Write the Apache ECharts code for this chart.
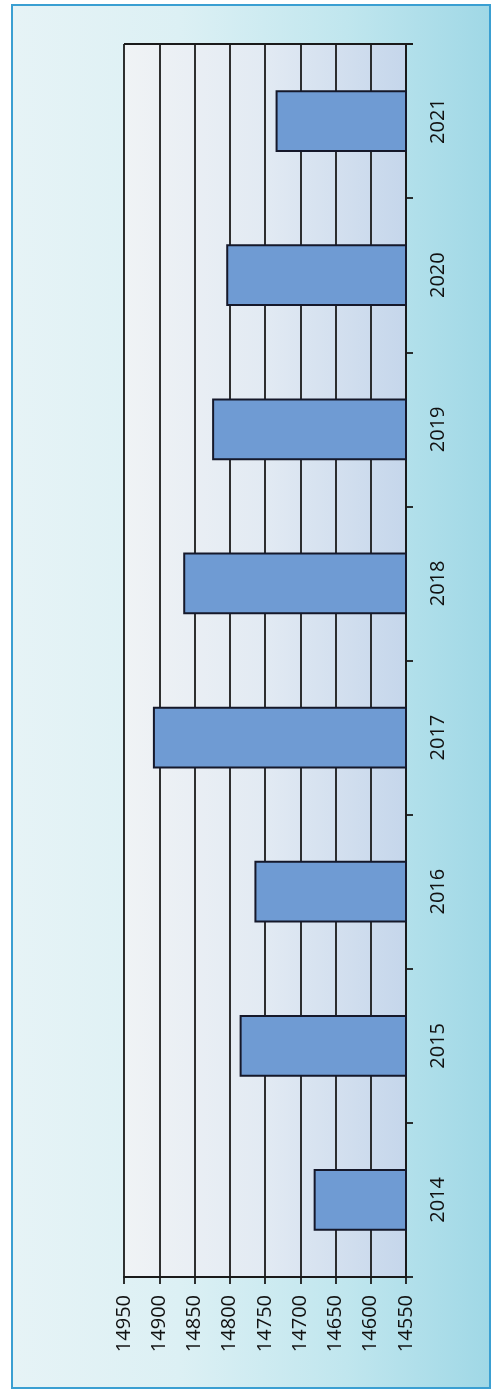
<!DOCTYPE html>
<html>
<head>
<meta charset="utf-8">
<script src="https://cdn.jsdelivr.net/npm/echarts@6/dist/echarts.min.js"></script>
<style>
  html, body { margin: 0; padding: 0; background: #ffffff; }
  #frame {
    position: absolute; left: 11px; top: 4px; width: 476px; height: 1381px;
    border: 2px solid #3a9fd2;
    background: linear-gradient(to right, #e6f3f6 0%, #dcf0f4 35%, #c0e6ee 70%, #a0d8e6 100%);
  }
  #chart { position: absolute; left: 0; top: 0; width: 500px; height: 1391px; }
</style>
</head>
<body>
<div id="frame"></div>
<div id="chart"></div>
<script>
const categories = ['2014', '2015', '2016', '2017', '2018', '2019', '2020', '2021'];
const values = [14681, 14786, 14765, 14909, 14866, 14825, 14805, 14735];
const valueMin = 14550;
const valueMax = 14950;
const valueStep = 50;

const chart = echarts.init(document.getElementById('chart'), null, { renderer: 'canvas' });
const labelFont = { fontFamily: 'Open Sans', fontSize: 20, color: '#111' };
const lineCol = '#1a1a1a';

chart.setOption({
  backgroundColor: 'transparent',
  animation: false,
  grid: {
    left: 124, right: 94, top: 44, bottom: 114,
    show: true,
    borderWidth: 0,
    backgroundColor: {
      type: 'linear', x: 0, y: 0, x2: 1, y2: 0,
      colorStops: [
        { offset: 0, color: '#f0f3f5' },
        { offset: 0.5, color: '#e2eaf3' },
        { offset: 1, color: '#c5d6eb' }
      ]
    }
  },
  xAxis: {
    type: 'value',
    min: valueMin, max: valueMax, interval: valueStep,
    inverse: true,
    position: 'bottom',
    axisLine: { show: true, lineStyle: { color: lineCol, width: 2 } },
    axisTick: { show: true, length: 7, lineStyle: { color: lineCol, width: 1.8 } },
    axisLabel: Object.assign({ rotate: 90, margin: 18, formatter: v => String(v) }, labelFont),
    splitLine: { show: true, lineStyle: { color: lineCol, width: 1.8 } }
  },
  yAxis: {
    type: 'category',
    data: categories,
    position: 'right',
    axisLine: { show: true, onZero: false, lineStyle: { color: lineCol, width: 2 } },
    axisTick: { show: true, length: 7, lineStyle: { color: lineCol, width: 1.8 } },
    axisLabel: Object.assign({ rotate: 90, margin: 22 }, labelFont),
    splitLine: { show: false }
  },
  series: [{
    type: 'bar',
    data: values,
    barWidth: '40%',
    itemStyle: { color: '#6f9bd3', borderColor: '#15182a', borderWidth: 2 }
  }],
  graphic: [{
    type: 'line',
    shape: { x1: 124, y1: 44, x2: 413, y2: 44 },
    style: { stroke: lineCol, lineWidth: 2 }
  }]
});
</script>
</body>
</html>
